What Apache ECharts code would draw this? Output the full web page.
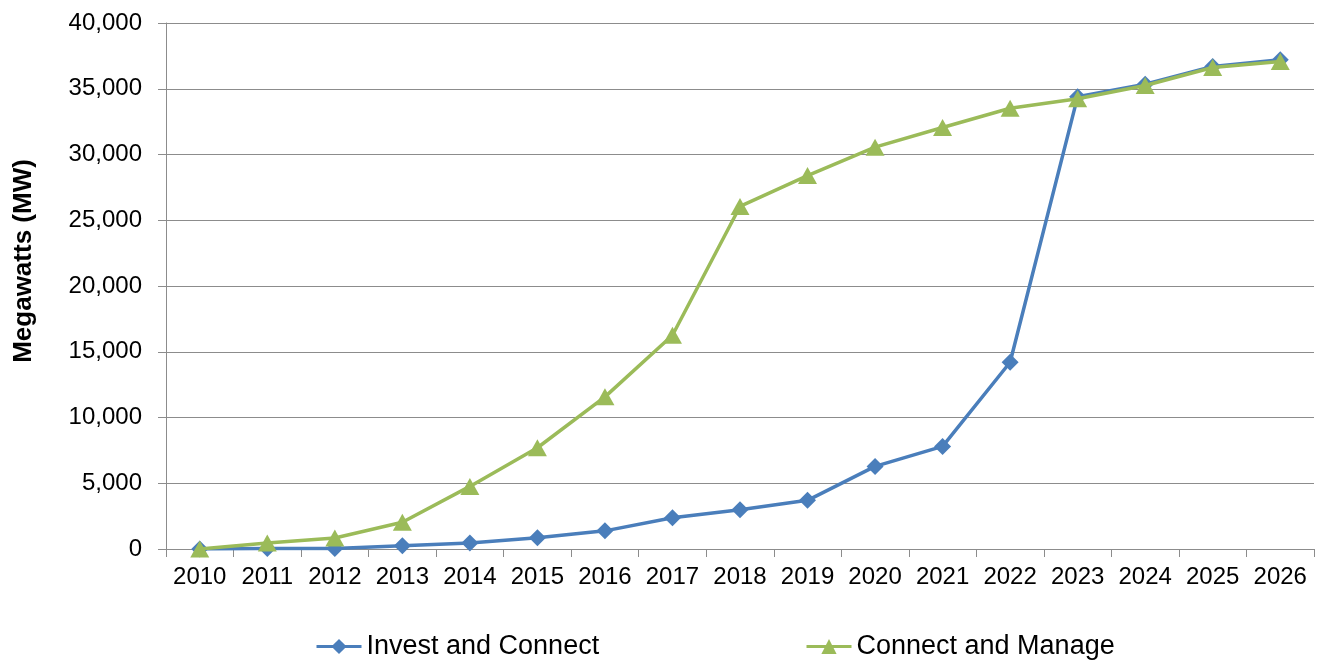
<!DOCTYPE html>
<html>
<head>
<meta charset="utf-8">
<title>Megawatts (MW)</title>
<script src="https://cdn.jsdelivr.net/npm/echarts@6/dist/echarts.min.js"></script>
<style>
  html, body { margin: 0; padding: 0; background: #ffffff; }
  #chart { width: 1319px; height: 661px; }
</style>
</head>
<body>
<div id="chart"></div>
<script>
// Years on the horizontal axis
const years = ['2010', '2011', '2012', '2013', '2014', '2015', '2016', '2017', '2018',
               '2019', '2020', '2021', '2022', '2023', '2024', '2025', '2026'];

// Cumulative capacity, MW
const investAndConnect = [0, 30, 40, 250, 450, 850, 1380, 2370, 2980, 3700, 6280, 7800,
                          14200, 34400, 35350, 36700, 37200];
const connectAndManage = [0, 450, 840, 2030, 4760, 7700, 11570, 16250, 26050, 28400, 30560,
                          32050, 33520, 34240, 35250, 36620, 37080];

// Value-axis ticks
const yTicks = [0, 5000, 10000, 15000, 20000, 25000, 30000, 35000, 40000];

const seriesNames = ['Invest and Connect', 'Connect and Manage'];
const blue = '#4a7ebb';
const green = '#9bbb59';
const gridColor = '#8c8c8c';
const font = 'Liberation Sans, Arial, sans-serif';

const chart = echarts.init(document.getElementById('chart'), null, { renderer: 'canvas' });

const legendBase = {
  top: 628,
  itemWidth: 45, itemHeight: 19, itemGap: 5,
  lineStyle: { width: 3 },
  textStyle: { fontSize: 27, color: '#000000', fontFamily: font }
};

chart.setOption({
  backgroundColor: '#ffffff',
  animation: false,
  textStyle: { fontFamily: font },
  grid: { left: 166, right: 5, top: 23, bottom: 112, containLabel: false },
  graphic: [{
    type: 'text',
    x: 24,
    y: 261,
    rotation: Math.PI / 2,
    style: {
      text: 'Megawatts (MW)',
      font: 'bold 26px ' + font,
      fill: '#000000',
      align: 'center',
      verticalAlign: 'middle'
    }
  }],
  legend: [
    Object.assign({ data: [seriesNames[0]], left: 310 }, legendBase),
    Object.assign({ data: [seriesNames[1]], left: 800 }, legendBase)
  ],
  xAxis: {
    type: 'category',
    data: years,
    boundaryGap: true,
    axisLine: { show: true, lineStyle: { color: gridColor, width: 1 } },
    axisTick: { show: true, length: 8, alignWithLabel: false, lineStyle: { color: gridColor } },
    axisLabel: { fontSize: 24, color: '#000000', margin: 16, fontFamily: font, interval: 0 },
    splitLine: { show: false }
  },
  yAxis: {
    type: 'value',
    min: yTicks[0],
    max: yTicks[yTicks.length - 1],
    interval: yTicks[1] - yTicks[0],
    axisLine: { show: true, lineStyle: { color: gridColor, width: 1 } },
    axisTick: { show: true, length: 8, inside: false, lineStyle: { color: gridColor } },
    axisLabel: {
      fontSize: 24, color: '#000000', margin: 24, fontFamily: font,
      formatter: v => v.toLocaleString('en-US')
    },
    splitLine: { show: true, lineStyle: { color: gridColor, width: 1 } }
  },
  series: [
    {
      name: seriesNames[0],
      type: 'line',
      data: investAndConnect,
      symbol: 'diamond',
      symbolSize: 17,
      lineStyle: { color: blue, width: 3.5 },
      itemStyle: { color: blue },
      z: 2
    },
    {
      name: seriesNames[1],
      type: 'line',
      data: connectAndManage,
      symbol: 'triangle',
      symbolSize: [19, 17],
      lineStyle: { color: green, width: 3.5 },
      itemStyle: { color: green },
      z: 3
    }
  ]
});
</script>
</body>
</html>
